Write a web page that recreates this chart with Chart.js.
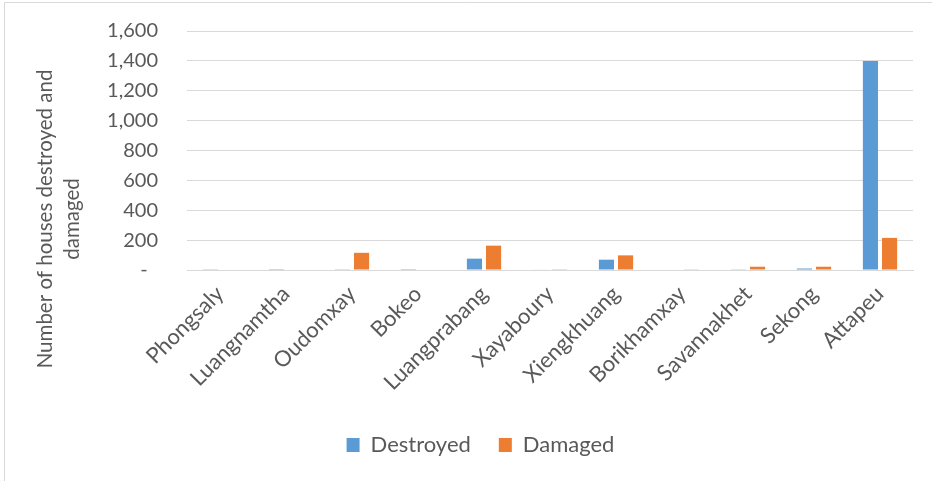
<!DOCTYPE html>
<html>
<head>
<meta charset="utf-8">
<script src="https://cdn.jsdelivr.net/npm/chart.js@4"></script>
<style>
  body { margin: 0; background: #fff; }
  #wrap { position: relative; width: 932px; height: 481px; }
</style>
</head>
<body>
<div id="wrap"><canvas id="chart" width="932" height="481"></canvas></div>
<script>
var provinces = ['Phongsaly', 'Luangnamtha', 'Oudomxay', 'Bokeo', 'Luangprabang', 'Xayaboury',
  'Xiengkhuang', 'Borikhamxay', 'Savannakhet', 'Sekong', 'Attapeu']
var destroyed = [5, 1, 5, 1, 76, 3, 69, 0, 2, 10, 1400]
var damaged = [0, 0, 115, 0, 163, 5, 98, 2, 22, 22, 215]
var yTitle = ['Number of houses destroyed and', 'damaged']

var fontFamily = 'Lato, "Liberation Sans", sans-serif'
var textColor = '#595959'
var lineColor = '#d9d9d9'

// outer frame of the chart (top and left edges only are visible)
var framePlugin = {
  id: 'frame',
  beforeDraw: function (chart) {
    var ctx = chart.ctx
    ctx.save()
    ctx.strokeStyle = lineColor
    ctx.lineWidth = 1
    ctx.beginPath()
    ctx.moveTo(4.5, 481)
    ctx.lineTo(4.5, 2.5)
    ctx.lineTo(932, 2.5)
    ctx.stroke()
    ctx.restore()
  }
}

// two-line rotated axis title, centred like the original
var yTitlePlugin = {
  id: 'yTitle',
  afterDraw: function (chart) {
    var ctx = chart.ctx
    ctx.save()
    ctx.fillStyle = textColor
    ctx.font = '20.5px ' + fontFamily
    ctx.textAlign = 'center'
    ctx.textBaseline = 'middle'
    for (var i = 0; i < yTitle.length; i++) {
      ctx.save()
      ctx.translate(45 + i * 27, 219)
      ctx.rotate(-Math.PI / 2)
      ctx.fillText(yTitle[i], 0, 0)
      ctx.restore()
    }
    ctx.restore()
  }
}

// legend in the original is a bit right of the canvas centre
var legendShift = {
  id: 'legendShift',
  afterLayout: function (chart) {
    chart.legend.left += 24
    chart.legend.right += 24
  }
}

var myChart = new Chart(document.getElementById('chart'), {
  type: 'bar',
  data: {
    labels: provinces,
    datasets: [{
      label: 'Destroyed',
      data: destroyed,
      backgroundColor: '#5b9bd5',
      categoryPercentage: 0.58,
      barPercentage: 0.79
    }, {
      label: 'Damaged',
      data: damaged,
      backgroundColor: '#ed7d31',
      categoryPercentage: 0.58,
      barPercentage: 0.79
    }]
  },
  plugins: [framePlugin, yTitlePlugin, legendShift],
  options: {
    responsive: false,
    animation: false,
    layout: { padding: { top: 31, right: 19, bottom: 15, left: 0 } },
    plugins: {
      legend: {
        position: 'bottom',
        labels: {
          color: textColor,
          font: { family: fontFamily, size: 22 },
          boxWidth: 13,
          boxHeight: 14,
          padding: 28
        }
      },
      tooltip: { enabled: false }
    },
    scales: {
      x: {
        afterFit: function (scale) { scale.height = 136 },
        grid: { display: false },
        border: { color: lineColor },
        ticks: {
          color: textColor,
          font: { family: fontFamily, size: 22 },
          minRotation: 45,
          maxRotation: 45
        }
      },
      y: {
        min: 0,
        max: 1600,
        afterFit: function (scale) {
          scale.width = 187
          scale.paddingTop = 10
          scale.paddingBottom = 10
        },
        grid: { color: lineColor, drawTicks: false },
        border: { display: false },
        ticks: {
          stepSize: 200,
          padding: 29,
          color: textColor,
          font: { family: fontFamily, size: 20 },
          callback: function (value) {
            return value === 0 ? '-  ' : value.toLocaleString('en-US')
          }
        }
      }
    }
  }
})
</script>
</body>
</html>
